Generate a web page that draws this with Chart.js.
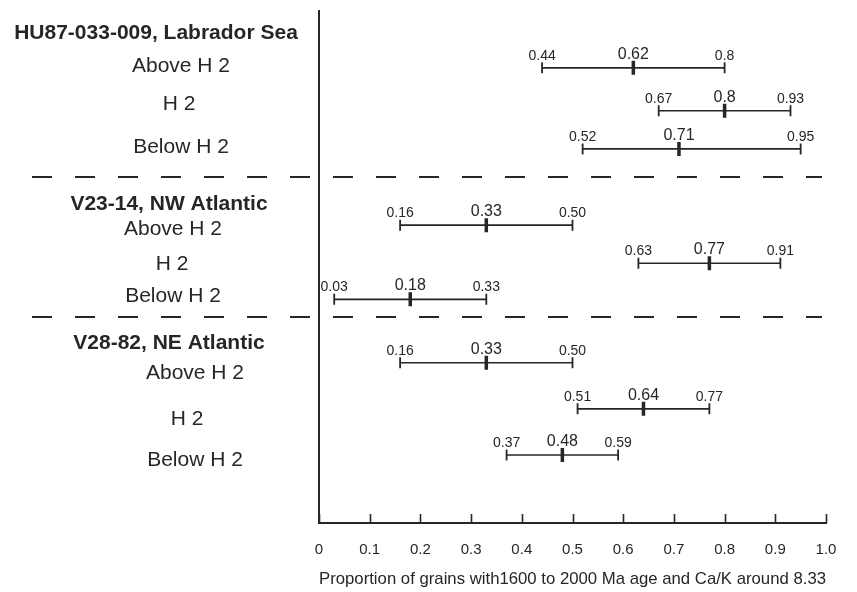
<!DOCTYPE html>
<html><head><meta charset="utf-8">
<script src="https://cdn.jsdelivr.net/npm/chart.js@4"></script>
<style>html,body{margin:0;padding:0;background:#fff}#wrap{width:857px;height:592px;position:relative}</style>
</head><body><div id="wrap"><canvas id="c"></canvas></div>
<script>
// ---- data ----
const cores = ['HU87-033-009, Labrador Sea', 'V23-14, NW Atlantic', 'V28-82, NE Atlantic'];
const levels = ['Above H 2', 'H 2', 'Below H 2'];
const lowValues  = [0.44, 0.67, 0.52, 0.16, 0.63, 0.03, 0.16, 0.51, 0.37];
const meanValues = [0.62, 0.80, 0.71, 0.33, 0.77, 0.18, 0.33, 0.64, 0.48];
const highValues = [0.80, 0.93, 0.95, 0.50, 0.91, 0.33, 0.50, 0.77, 0.59];
const lowLabels  = ['0.44', '0.67', '0.52', '0.16', '0.63', '0.03', '0.16', '0.51', '0.37'];
const meanLabels = ['0.62', '0.8', '0.71', '0.33', '0.77', '0.18', '0.33', '0.64', '0.48'];
const highLabels = ['0.8', '0.93', '0.95', '0.50', '0.91', '0.33', '0.50', '0.77', '0.59'];
const xTickLabels = ['0', '0.1', '0.2', '0.3', '0.4', '0.5', '0.6', '0.7', '0.8', '0.9', '1.0'];
const xTitle = 'Proportion of grains with1600 to 2000 Ma age and Ca/K around 8.33';

// ---- layout (vertical slots in row units, top = 0) ----
const Y_MAX = 12.775;
const rowSlot = [1.43, 2.5, 3.45, 5.35, 6.3, 7.2, 8.78, 9.93, 11.08];
const headerSlot = [0.575, 4.82, 8.3];
const levelTextSlot = [1.4, 2.33, 3.4, 5.45, 6.33, 7.13, 9.05, 10.2, 11.2];
const separatorSlot = [4.15, 7.65];
const headerX = [156, 169, 169];
const levelTextX = [181, 179, 181, 173, 172, 173, 195, 187, 195];

const FONT = "'Liberation Sans', Arial, Helvetica, sans-serif";
const INK = '#262626';

const datasets = [];
lowValues.forEach((lo, i) => {
  datasets.push({
    type: 'scatter', showLine: true,
    data: [{x: lo, y: rowSlot[i]}, {x: highValues[i], y: rowSlot[i]}],
    borderColor: INK, borderWidth: 1.6,
    pointStyle: 'line', rotation: 90, pointRadius: 5.5, pointBorderWidth: 1.8,
    pointBorderColor: INK, pointBackgroundColor: INK
  });
});
datasets.push({
  type: 'scatter', showLine: false,
  data: meanValues.map((m, i) => ({x: m, y: rowSlot[i]})),
  pointStyle: 'line', rotation: 90, pointRadius: 7, pointBorderWidth: 3.5,
  pointBorderColor: INK, pointBackgroundColor: INK
});

const decor = {
  id: 'decor',
  afterDraw(chart) {
    const ctx = chart.ctx, xs = chart.scales.x, ys = chart.scales.y;
    const area = chart.chartArea;
    ctx.save();
    // inner x ticks
    ctx.strokeStyle = INK; ctx.lineWidth = 1.6;
    xs.ticks.forEach(t => {
      const px = Math.round(xs.getPixelForValue(t.value)) + 0.5;
      ctx.beginPath(); ctx.moveTo(px, area.bottom); ctx.lineTo(px, area.bottom - 9); ctx.stroke();
    });
    // separators
    ctx.lineWidth = 2; ctx.setLineDash([20, 23]);
    separatorSlot.forEach(s => {
      const py = Math.round(ys.getPixelForValue(s));
      ctx.beginPath(); ctx.moveTo(32, py); ctx.lineTo(822, py); ctx.stroke();
    });
    ctx.setLineDash([]);
    // value labels
    ctx.fillStyle = INK; ctx.textAlign = 'center'; ctx.textBaseline = 'alphabetic';
    rowSlot.forEach((s, i) => {
      const py = ys.getPixelForValue(s);
      ctx.font = '14px ' + FONT;
      ctx.fillText(lowLabels[i], xs.getPixelForValue(lowValues[i]), py - 8);
      ctx.fillText(highLabels[i], xs.getPixelForValue(highValues[i]), py - 8);
      ctx.font = '16px ' + FONT;
      ctx.fillText(meanLabels[i], xs.getPixelForValue(meanValues[i]), py - 9);
    });
    // left labels
    ctx.textBaseline = 'middle';
    cores.forEach((c, g) => {
      ctx.font = 'bold 21px ' + FONT;
      ctx.fillText(c, headerX[g], ys.getPixelForValue(headerSlot[g]));
      levels.forEach((l, k) => {
        const i = g * levels.length + k;
        ctx.font = '21px ' + FONT;
        ctx.fillText(l, levelTextX[i], ys.getPixelForValue(levelTextSlot[i]));
      });
    });
    ctx.restore();
  }
};

new Chart(document.getElementById('c'), {
  type: 'scatter',
  data: {datasets},
  options: {
    responsive: true, maintainAspectRatio: false, animation: false,
    layout: {padding: {left: 319, right: 31, top: 10, bottom: 4}},
    plugins: {legend: {display: false}, tooltip: {enabled: false}},
    scales: {
      x: {
        type: 'linear', min: 0, max: 1,
        grid: {display: false, drawTicks: false},
        border: {display: true, color: INK, width: 2},
        ticks: {stepSize: 0.1, padding: 18, color: INK, font: {family: FONT, size: 15},
          callback: (v, i) => xTickLabels[i]},
        title: {display: true, text: xTitle, color: INK, font: {family: FONT, size: 17, lineHeight: 1.0},
          padding: {top: -6, bottom: 0}}
      },
      y: {
        type: 'linear', min: 0, max: Y_MAX, reverse: true,
        grid: {display: false, drawTicks: false},
        border: {display: true, color: INK, width: 2},
        ticks: {display: false}
      }
    }
  },
  plugins: [decor]
});
</script>
</body></html>
